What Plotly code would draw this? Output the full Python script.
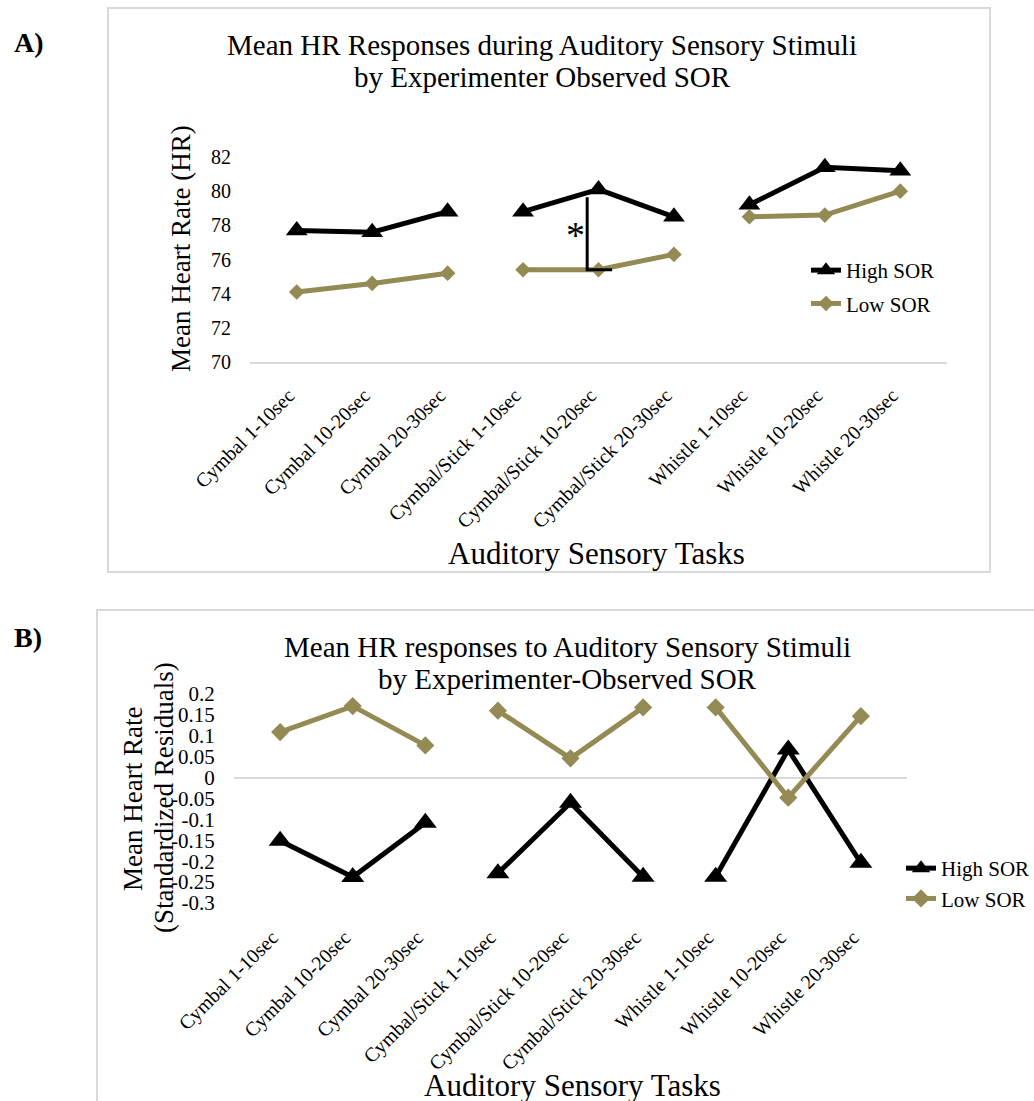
import plotly.graph_objects as go

# ---------------- data ----------------
tasks = ["Cymbal 1-10sec", "Cymbal 10-20sec", "Cymbal 20-30sec",
         "Cymbal/Stick 1-10sec", "Cymbal/Stick 10-20sec", "Cymbal/Stick 20-30sec",
         "Whistle 1-10sec", "Whistle 10-20sec", "Whistle 20-30sec"]
groups = [(0, 3), (3, 6), (6, 9)]

a_high = [77.7, 77.6, 78.8, 78.8, 80.1, 78.5, 79.2, 81.4, 81.2]
a_low = [74.1, 74.6, 75.2, 75.4, 75.4, 76.3, 78.5, 78.6, 80.0]

b_high = [-0.151, -0.238, -0.108, -0.229, -0.060, -0.237, -0.237, 0.067, -0.204]
b_low = [0.109, 0.171, 0.077, 0.160, 0.046, 0.168, 0.168, -0.048, 0.147]

a_yticks = [70, 72, 74, 76, 78, 80, 82]
a_yticktext = ["70", "72", "74", "76", "78", "80", "82"]
b_yticks = [0.2, 0.15, 0.1, 0.05, 0, -0.05, -0.1, -0.15, -0.2, -0.25, -0.3]
b_yticktext = ["0.2", "0.15", "0.1", "0.05", "0", "-0.05", "-0.1", "-0.15", "-0.2", "-0.25", "-0.3"]

sig_index = 4  # Cymbal/Stick 10-20sec significant difference

# ---------------- style ----------------
FONT = "Liberation Serif, Times New Roman, serif"
BLACK = "#000000"
OLIVE = "#948A54"
GRID = "#d9d9d9"
W, H = 1034, 1101


def px(x):
    return x / W


def py(y):
    return 1 - y / H


fig = go.Figure()


def add_series(vals, name, color, symbol, msize, xa, ya, legend):
    for gi, (s, e) in enumerate(groups):
        fig.add_trace(go.Scatter(
            x=tasks[s:e], y=vals[s:e], name=name, mode="lines+markers",
            line=dict(color=color, width=5),
            marker=dict(symbol=symbol, size=msize, color=color),
            xaxis=xa, yaxis=ya, legend=legend, legendgroup=name + legend,
            showlegend=(gi == 0), cliponaxis=False,
        ))


add_series(a_high, "High SOR", BLACK, "triangle-up", 19, "x", "y", "legend")
add_series(a_low, "Low SOR", OLIVE, "diamond", 12, "x", "y", "legend")
add_series(b_high, "High SOR", BLACK, "triangle-up", 20, "x2", "y2", "legend2")
add_series(b_low, "Low SOR", OLIVE, "diamond", 14, "x2", "y2", "legend2")

tickfont = dict(family=FONT, size=20, color="black")

fig.update_layout(
    template="none",
    width=W, height=H, margin=dict(l=0, r=0, t=0, b=0, pad=0, autoexpand=False),
    paper_bgcolor="white", plot_bgcolor="white",
    font=dict(family=FONT, color="black"),
    xaxis=dict(domain=[px(250), px(947)], anchor="y", type="category",
               categoryorder="array", categoryarray=tasks, automargin=False,
               tickangle=-45, tickfont=tickfont, showgrid=False, zeroline=False,
               showline=True, linecolor=GRID, linewidth=2,
               ticks="", ticklabelstandoff=12, ticklabelshift=-8),
    yaxis=dict(domain=[py(362), py(157)], anchor="x", range=[70, 82], automargin=False,
               tickvals=a_yticks, ticktext=a_yticktext, tickfont=tickfont,
               showgrid=False, zeroline=False, showline=False,
               ticks="outside", ticklen=14, tickcolor="rgba(0,0,0,0)"),
    xaxis2=dict(domain=[px(234), px(907)], anchor="y2", type="category",
                categoryorder="array", categoryarray=tasks, automargin=False,
                tickangle=-45, tickfont=tickfont, showgrid=False, zeroline=False,
                showline=False,
                ticks="", ticklabelstandoff=18, ticklabelshift=-8),
    yaxis2=dict(domain=[py(903), py(694)], anchor="x2", range=[-0.3, 0.2], automargin=False,
                tickvals=b_yticks, ticktext=b_yticktext,
                tickfont=dict(family=FONT, size=21, color="black"),
                showgrid=False, zeroline=True, zerolinecolor=GRID, zerolinewidth=2,
                showline=False,
                ticks="outside", ticklen=14, tickcolor="rgba(0,0,0,0)"),
    legend=dict(x=px(806), y=py(250), xanchor="left", yanchor="top",
                bgcolor="rgba(0,0,0,0)", font=dict(family=FONT, size=21),
                tracegroupgap=3, itemwidth=30),
    legend2=dict(x=px(901), y=py(848), xanchor="left", yanchor="top",
                 bgcolor="rgba(0,0,0,0)", font=dict(family=FONT, size=21),
                 tracegroupgap=0, itemwidth=30),
)

# frames
fig.add_shape(type="rect", xref="paper", yref="paper",
              x0=px(108), x1=px(990), y0=py(572), y1=py(8),
              line=dict(color=GRID, width=2), fillcolor="rgba(0,0,0,0)", layer="below")
fig.add_shape(type="rect", xref="paper", yref="paper",
              x0=px(97), x1=px(1050), y0=py(1120), y1=py(610),
              line=dict(color=GRID, width=2), fillcolor="rgba(0,0,0,0)", layer="below")

# significance bracket (derived from the data of the significant task)
bx = sig_index - 0.15
fig.add_shape(type="path", xref="x", yref="y",
              path=f"M {bx},{a_high[sig_index] - 0.45} L {bx},{a_low[sig_index]} L {sig_index + 0.18},{a_low[sig_index]}",
              line=dict(color=BLACK, width=3))
fig.add_annotation(x=sig_index - 0.3, y=(a_high[sig_index] + a_low[sig_index]) / 2 - 0.3,
                   xref="x", yref="y", text="*", showarrow=False,
                   font=dict(family=FONT, size=38, color="black"))


def text(x, y, t, size, bold=False, angle=0, xanchor="center"):
    fig.add_annotation(x=px(x), y=py(y), xref="paper", yref="paper",
                       text=("<b>%s</b>" % t) if bold else t, showarrow=False,
                       xanchor=xanchor, yanchor="middle", textangle=angle,
                       font=dict(family=FONT, size=size, color="black"))


text(12, 42, "A)", 28, bold=True, xanchor="left")
text(12, 637, "B)", 28, bold=True, xanchor="left")

text(542, 45, "Mean HR Responses during Auditory Sensory Stimuli", 29)
text(542, 77, "by Experimenter Observed SOR", 29)
text(596, 553, "Auditory Sensory Tasks", 31)
text(181, 249, "Mean Heart Rate (HR)", 27, angle=-90)

text(567, 647, "Mean HR responses to Auditory Sensory Stimuli", 29)
text(567, 679, "by Experimenter-Observed SOR", 29)
text(572, 1085, "Auditory Sensory Tasks", 31)
text(133, 799, "Mean Heart Rate", 27, angle=-90)
text(164, 798, "(Standardized Residuals)", 27, angle=-90)

fig.write_html("out.html")
